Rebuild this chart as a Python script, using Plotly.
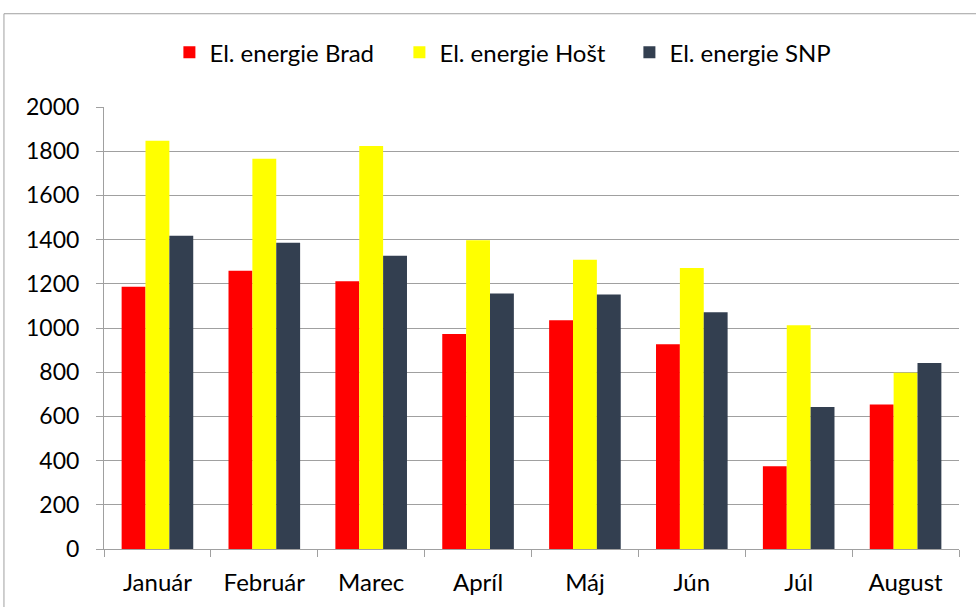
import plotly.graph_objects as go

months = ["Január", "Február", "Marec", "Apríl", "Máj", "Jún", "Júl", "August"]
brad = [1187, 1259, 1212, 973, 1035, 926, 375, 654]
host = [1847, 1766, 1823, 1397, 1309, 1271, 1012, 797]
snp = [1417, 1386, 1327, 1156, 1152, 1071, 642, 842]
y_ticks = [0, 200, 400, 600, 800, 1000, 1200, 1400, 1600, 1800, 2000]

FONT = "Lato, 'Open Sans', sans-serif"

fig = go.Figure()
fig.add_trace(go.Bar(name="El. energie Brad", x=months, y=brad, marker=dict(color="#FF0000", line=dict(width=0))))
fig.add_trace(go.Bar(name="El. energie Hošt", x=months, y=host, marker=dict(color="#FFFF00", line=dict(width=0))))
fig.add_trace(go.Bar(name="El. energie SNP", x=months, y=snp, marker=dict(color="#333F50", line=dict(width=0))))

fig.update_layout(
    width=976, height=607,
    margin=dict(l=104, r=17, t=107, b=58, autoexpand=False),
    paper_bgcolor="white", plot_bgcolor="white",
    barmode="group", bargap=0.33, bargroupgap=0,
    font=dict(family=FONT, size=24, color="#000000"),
    legend=dict(orientation="h", x=0.48, xanchor="center", y=1.123, yanchor="middle",
                font=dict(family=FONT, size=24), itemwidth=30, entrywidth=185,
                traceorder="normal"),
    showlegend=True,
)
fig.update_yaxes(range=[0, 2000], tickvals=y_ticks, showgrid=True, gridcolor="#A0A0A0", gridwidth=1,
                 showline=True, linecolor="#A0A0A0", linewidth=1, ticks="outside", ticklen=7,
                 tickcolor="#A0A0A0", zeroline=False, tickfont=dict(size=23), ticklabelstandoff=12,
                 automargin=False)
fig.update_xaxes(showline=True, linecolor="#A0A0A0", linewidth=1, ticks="outside", ticklen=7,
                 tickcolor="#A0A0A0", tickson="boundaries", tickfont=dict(size=24), ticklabelstandoff=12,
                 automargin=False)

# chart border (cropped outer frame)
fig.add_shape(type="rect", xref="paper", yref="paper", x0=-0.117, x1=1.03, y0=-0.15, y1=1.211,
              line=dict(color="#A0A0A0", width=1), fillcolor="rgba(0,0,0,0)", layer="below")

fig.write_html("out.html", config={"displayModeBar": False},
               post_script="document.body.style.margin='0px';")
